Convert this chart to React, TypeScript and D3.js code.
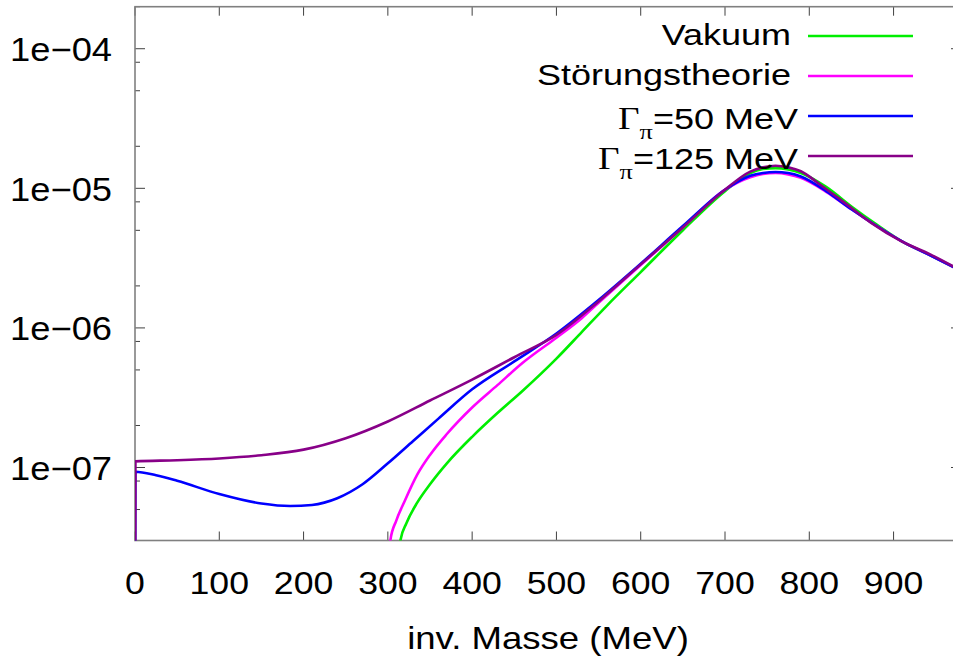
import React from "react";
import * as d3 from "d3";

const W = 953;
const H = 660;

// x tick values (MeV)
const xTicks = [0, 100, 200, 300, 400, 500, 600, 700, 800, 900];
const yMajorTicks = [1e-7, 1e-6, 1e-5, 1e-4];
const yTickLabels = ["1e−07", "1e−06", "1e−05", "1e−04"];
const yMinorFactors = [2, 5, 8];

const seriesNames = ["Vakuum", "Störungstheorie", "Γπ=50 MeV", "Γπ=125 MeV"];
const seriesColors = ["#00ee00", "#ff00ff", "#0000ff", "#880088"];

// values given as log10 of the spectral function
// Vakuum
const vakM = [311, 315, 322, 335, 350, 370, 400, 430, 460, 500, 530, 560, 600, 650, 700, 730, 745, 760, 775, 790, 820, 850, 880, 910, 940, 980];
const vakL = [-8.3, -7.52, -7.40, -7.25, -7.12, -6.97, -6.78, -6.61, -6.45, -6.22, -6.03, -5.84, -5.60, -5.30, -5.02, -4.89, -4.862, -4.855, -4.865, -4.89, -4.99, -5.13, -5.26, -5.38, -5.47, -5.59];

// Störungstheorie
const stM = [299, 303, 310, 320, 335, 350, 370, 400, 430, 460, 500, 530, 550, 600, 650, 700, 730, 745, 760, 775, 790, 820, 850, 880, 910, 940, 980];
const stL = [-8.5, -7.52, -7.38, -7.24, -7.05, -6.91, -6.76, -6.57, -6.41, -6.25, -6.07, -5.93, -5.82, -5.55, -5.28, -5.01, -4.92, -4.897, -4.89, -4.90, -4.925, -5.025, -5.15, -5.27, -5.38, -5.47, -5.59];

// Gamma_pi = 50 MeV
const g50M = [0, 0.5, 25, 50, 100, 150, 184, 210, 240, 270, 300, 330, 360, 400, 450, 500, 550, 600, 650, 700, 730, 745, 760, 775, 790, 820, 850, 880, 910, 940, 980];
const g50L = [-9, -7.03, -7.055, -7.095, -7.19, -7.258, -7.276, -7.268, -7.22, -7.12, -6.97, -6.81, -6.65, -6.44, -6.24, -6.04, -5.80, -5.54, -5.27, -5.01, -4.91, -4.89, -4.883, -4.89, -4.915, -5.02, -5.15, -5.27, -5.38, -5.47, -5.59];

// Gamma_pi = 125 MeV
const g125M = [0, 0.5, 50, 100, 150, 200, 250, 300, 350, 400, 450, 500, 550, 600, 650, 700, 730, 745, 760, 775, 790, 813, 837, 873, 909, 944, 980];
const g125L = [-9, -6.956, -6.948, -6.935, -6.912, -6.872, -6.79, -6.67, -6.52, -6.37, -6.21, -6.05, -5.81, -5.545, -5.28, -5.01, -4.88, -4.85, -4.838, -4.85, -4.878, -4.974, -5.081, -5.246, -5.379, -5.475, -5.59];

const seriesM = [vakM, stM, g50M, g125M];
const seriesL = [vakL, stL, g50L, g125L];

const left = 135;
const right = 961;
const top = 6.7;
const bottom = 540.5;

type TProps = { x: number; y: number; anchor: string; fs: number; sx: number; children: React.ReactNode };
const T = (p: TProps) => (
  <g transform={`translate(${p.x},${p.y}) scale(${p.sx},1)`}>
    <text x={0} y={0} fontSize={p.fs} textAnchor={p.anchor} fill="#000">
      {p.children}
    </text>
  </g>
);

export default function App() {
  const x = d3.scaleLinear().domain([0, 980]).range([left, right]);
  const y = d3.scaleLog().domain([3e-8, 2e-4]).range([bottom, top]);

  const line = d3
    .line<[number, number]>()
    .x((d) => x(d[0]))
    .y((d) => y(d[1]))
    .curve(d3.curveMonotoneX);

  const minorTicks: number[] = [];
  for (let e = -8; e <= -4; e++) {
    for (const f of yMinorFactors) {
      const v = f * Math.pow(10, e);
      if (v >= 3e-8 && v <= 2e-4) minorTicks.push(v);
    }
  }

  const font = "'Liberation Sans', Arial, Helvetica, sans-serif";
  const serif = "'Liberation Serif', 'Times New Roman', serif";
  const borderColor = "#808080";
  const tickColor = "#404040";

  const legendY0 = 36;
  const legendDy = 40;

  return (
    <svg
      width={W}
      height={H}
      style={{ position: "absolute", left: 0, top: 0, background: "#fff" }}
      fontFamily={font}
    >
      <defs>
        <clipPath id="plotclip">
          <rect x={left} y={top} width={right - left} height={bottom - top} />
        </clipPath>
      </defs>
      <rect x={0} y={0} width={W} height={H} fill="#fff" />

      {/* ticks */}
      {xTicks.map((t) => (
        <g key={"xt" + t}>
          <line x1={x(t)} x2={x(t)} y1={bottom} y2={bottom - 9} stroke={tickColor} strokeWidth={1} />
          <line x1={x(t)} x2={x(t)} y1={top} y2={top + 9} stroke={tickColor} strokeWidth={1} />
          <T x={x(t)} y={594} anchor="middle" fs={31} sx={1.15}>{t}</T>
        </g>
      ))}
      {yMajorTicks.map((t, i) => (
        <g key={"yt" + t}>
          <line x1={left} x2={left + 10} y1={y(t)} y2={y(t)} stroke={tickColor} strokeWidth={1} />
          <line x1={right} x2={right - 10} y1={y(t)} y2={y(t)} stroke={tickColor} strokeWidth={1} />
          <T x={112} y={y(t) + 12.5} anchor="end" fs={33} sx={1.1}>{yTickLabels[i]}</T>
        </g>
      ))}
      {minorTicks.map((t) => (
        <g key={"ym" + t}>
          <line x1={left} x2={left + 5} y1={y(t)} y2={y(t)} stroke={tickColor} strokeWidth={1} />
          <line x1={right} x2={right - 5} y1={y(t)} y2={y(t)} stroke={tickColor} strokeWidth={1} />
        </g>
      ))}

      {/* border */}
      <rect
        x={left}
        y={top}
        width={right - left}
        height={bottom - top}
        fill="none"
        stroke={borderColor}
        strokeWidth={1.6}
      />

      {/* curves */}
      <g clipPath="url(#plotclip)">
        {seriesM.map((ms, i) => {
          const pts: [number, number][] = ms.map((m, j) => [m, Math.pow(10, seriesL[i][j])]);
          return (
            <path
              key={"s" + i}
              d={line(pts) || ""}
              fill="none"
              stroke={seriesColors[i]}
              strokeWidth={2.6}
              strokeLinejoin="round"
            />
          );
        })}
      </g>

      {/* legend */}
      {seriesNames.map((name, i) => {
        const ly = legendY0 + i * legendDy;
        const isGamma = name.startsWith("Γπ");
        return (
          <g key={"lg" + i}>
            <line x1={808} x2={913} y1={ly} y2={ly} stroke={seriesColors[i]} strokeWidth={2.6} />
            {isGamma ? (
              <T x={798} y={ly + 12.5} anchor="end" fs={30} sx={1.2}>
                <tspan fontFamily={serif} fontSize={31}>Γ</tspan>
                <tspan fontFamily={serif} fontSize={22} dy={10}>π</tspan>
                <tspan dy={-10}>{name.slice(2)}</tspan>
              </T>
            ) : (
              <T x={791} y={ly + 8.5} anchor="end" fs={30} sx={1.2}>{name}</T>
            )}
          </g>
        );
      })}

      {/* axis label */}
      <T x={(left + right) / 2} y={649} anchor="middle" fs={31} sx={1.18}>inv. Masse (MeV)</T>
    </svg>
  );
}
